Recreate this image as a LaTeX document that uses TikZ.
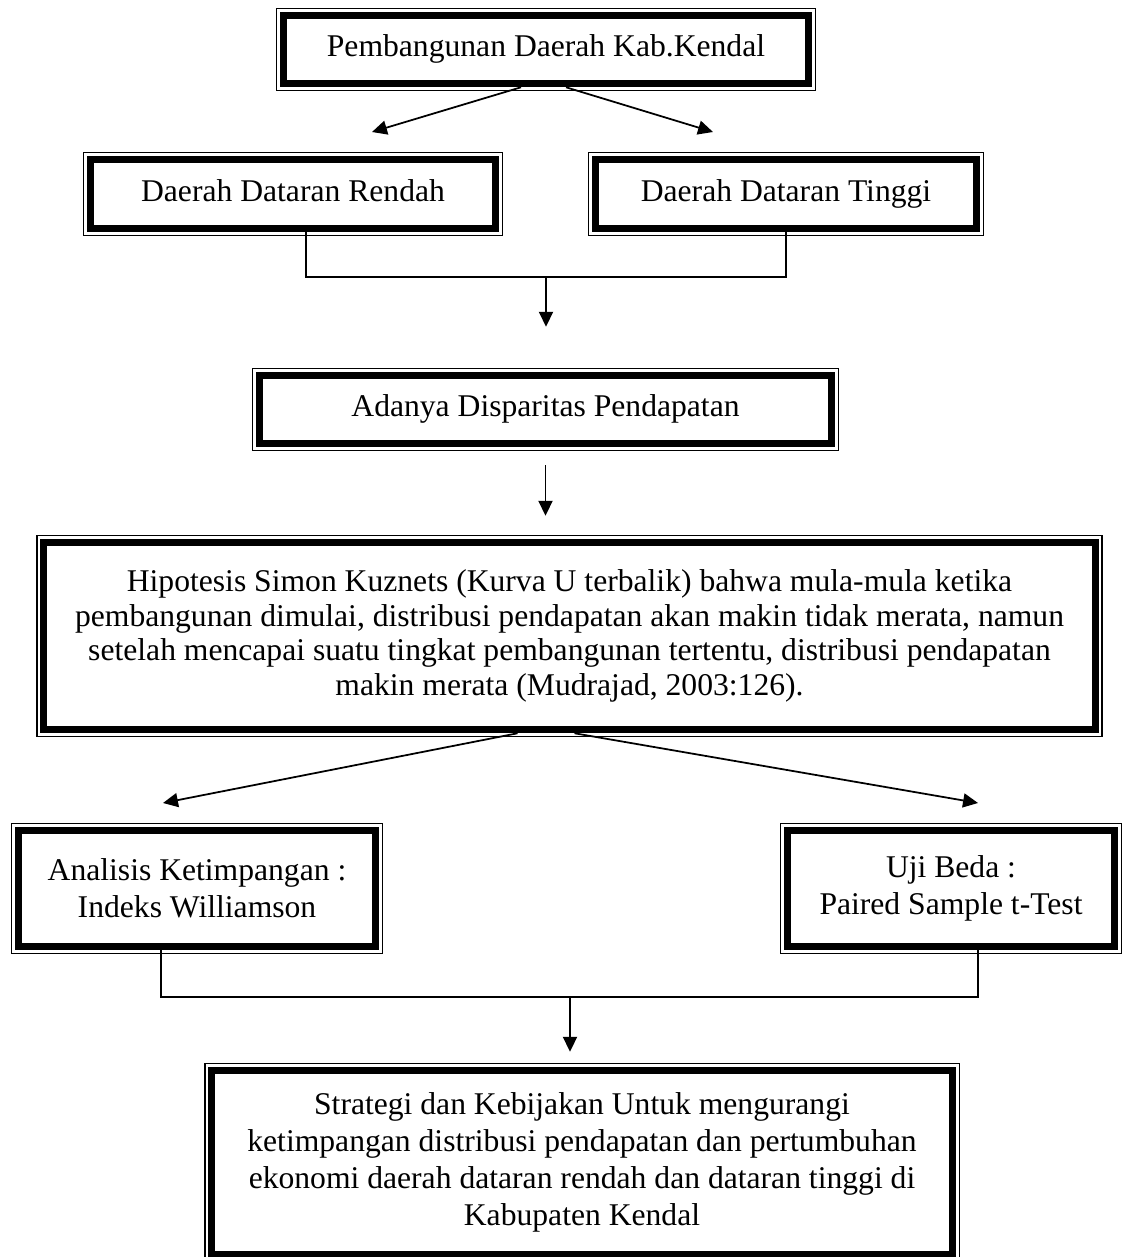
\documentclass[tikz,border=0pt]{standalone}
\usepackage{fontspec}
\setmainfont{Liberation Serif}
\usetikzlibrary{arrows.meta, positioning}

\tikzset{
  box/.style={draw, line width=4.3pt, inner sep=0pt, align=center,
    font=\fontsize{18pt}{19.6pt}\selectfont},
  oneline/.style={text height=12.5pt, text depth=4pt},
  link/.style={line width=1pt},
  arr/.style={link, -{Triangle[length=8.5pt, width=8pt]}}
}

\begin{document}
\begin{tikzpicture}[x=0.02cm, y=-0.02cm]
  \useasboundingbox (0,0) rectangle (1124,1257);

  \node[box, oneline, minimum width=10.50cm, minimum height=1.36cm] (kendal) at (546,49.5) {Pembangunan Daerah Kab.Kendal};
  \node[box, oneline, minimum width=8.10cm, minimum height=1.38cm] (rendah) at (293,194) {Daerah Dataran Rendah};
  \node[box, oneline, minimum width=7.62cm, minimum height=1.38cm] (tinggi) at (786,194) {Daerah Dataran Tinggi};
  \node[box, oneline, minimum width=11.44cm, minimum height=1.36cm] (disp) at (545.5,409.5) {Adanya Disparitas Pendapatan};
  \node[box, minimum width=21.04cm, minimum height=3.74cm] (kuznets) at (569.5,636)
    {Hipotesis Simon Kuznets (Kurva U terbalik) bahwa mula-mula ketika\\
     pembangunan dimulai, distribusi pendapatan akan makin tidak merata, namun\\
     setelah mencapai suatu tingkat pembangunan tertentu, distribusi pendapatan\\
     makin merata (Mudrajad, 2003:126).};
  \node[box, minimum width=7.14cm, minimum height=2.32cm,
    font=\fontsize{18pt}{21pt}\selectfont] (william) at (197,888.5) {Analisis Ketimpangan :\\Indeks Williamson};
  \node[box, minimum width=6.54cm, minimum height=2.32cm,
    font=\fontsize{18pt}{21pt}\selectfont] (ttest) at (951,888.5) {Uji Beda :\\Paired Sample t-Test};
  \node[box, minimum width=14.82cm, minimum height=3.68cm,
    font=\fontsize{18pt}{21pt}\selectfont] (strategi) at (582,1162.5)
    {Strategi dan Kebijakan Untuk mengurangi\\
     ketimpangan distribusi pendapatan dan pertumbuhan\\
     ekonomi daerah dataran rendah dan dataran tinggi di\\
     Kabupaten Kendal};

  % thin outer frame round every box
  \foreach \n in {kendal,rendah,tinggi,disp,kuznets,william,ttest,strategi}
    \draw[line width=0.8pt] ([shift={(-0.06cm,0.06cm)}]\n.north west) rectangle ([shift={(0.06cm,-0.06cm)}]\n.south east);

  % free ends of the arrows
  \coordinate (tipL) at (372,132);
  \coordinate (tipR) at (713,132);
  \coordinate (join1) at (546,277);
  \coordinate (join2) at (570,997);
  \coordinate (tipW) at (163,803);
  \coordinate (tipT) at (978,803);

  \draw[arr] ([xshift=-0.5cm]kendal.south) -- (tipL);
  \draw[arr] ([xshift=0.4cm]kendal.south) -- (tipR);
  \draw[link] ([xshift=0.26cm]rendah.south) |- (join1) -| (tinggi.south);
  \draw[arr, shorten >=0.9cm] (join1) -- (join1 |- disp.north);
  \draw[arr, shorten <=0.36cm, shorten >=0.46cm] (disp.south) -- (disp.south |- kuznets.north);
  \draw[arr] ([xshift=-1.04cm]kuznets.south) -- (tipW);
  \draw[arr] ([xshift=0.1cm]kuznets.south) -- (tipT);
  \draw[link] ([xshift=-0.72cm]william.south) |- (join2) -| ([xshift=0.54cm]ttest.south);
  \draw[arr, shorten >=0.3cm] (join2) -- (join2 |- strategi.north);
\end{tikzpicture}
\end{document}
